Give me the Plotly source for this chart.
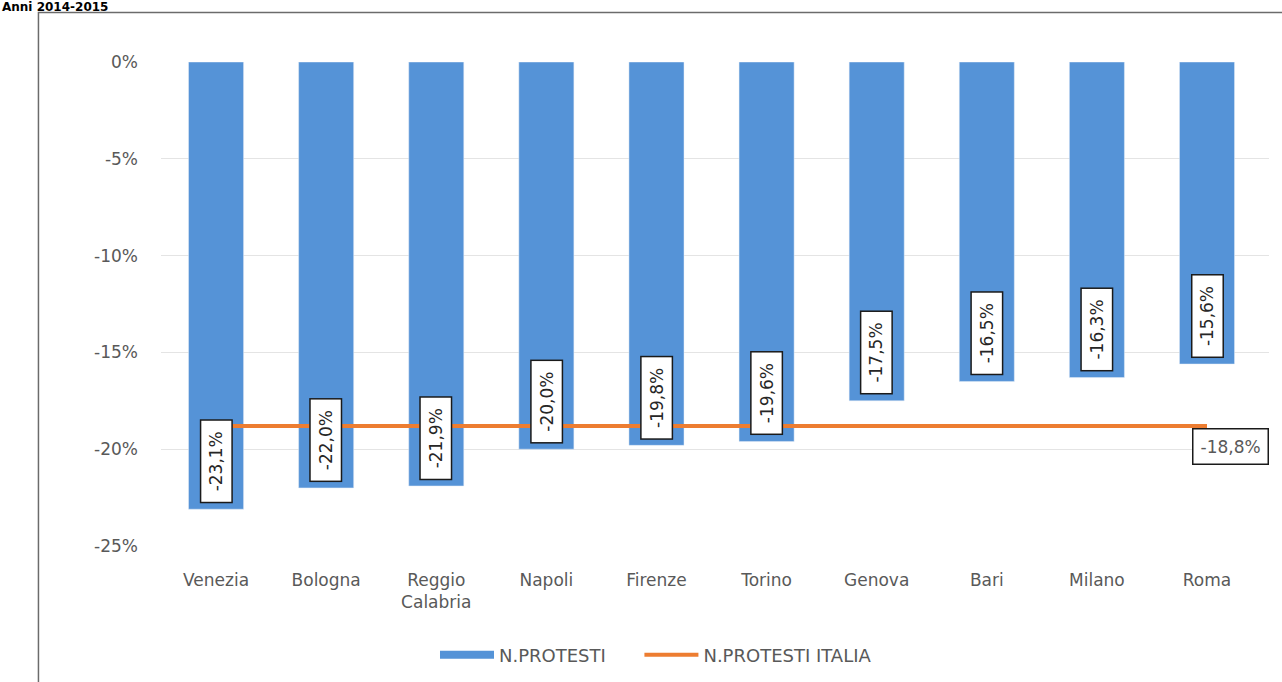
import plotly.graph_objects as go

cities = ["Venezia", "Bologna", "Reggio<br>Calabria", "Napoli", "Firenze",
          "Torino", "Genova", "Bari", "Milano", "Roma"]
protesti = [-23.1, -22.0, -21.9, -20.0, -19.8, -19.6, -17.5, -16.5, -16.3, -15.6]
italia = [-18.8] * len(cities)
ytick_vals = [0, -5, -10, -15, -20, -25]
ytick_text = ["0%", "-5%", "-10%", "-15%", "-20%", "-25%"]

FONT = "DejaVu Sans"
TXT = "#595959"
BLUE = "#5593d7"
ORANGE = "#ed7d31"

def fmt(v):
    return ("%.1f%%" % v).replace(".", ",")

fig = go.Figure()
fig.add_trace(go.Bar(x=cities, y=protesti, marker_color=BLUE, name="N.PROTESTI",
                     showlegend=False, width=0.5))
fig.add_trace(go.Scatter(x=[None], y=[None], mode="lines",
                         name="N.PROTESTI" + "\u00a0" * 5,
                         line=dict(color=BLUE, width=8)))
fig.add_trace(go.Scatter(x=cities, y=italia, mode="lines", name="N.PROTESTI ITALIA",
                         line=dict(color=ORANGE, width=4)))

for c, v in zip(cities, protesti):
    fig.add_annotation(x=c, y=v, xref="x", yref="y", text="\u00a0" + fmt(v) + "\u00a0",
                       textangle=-90, showarrow=False, yanchor="bottom", xanchor="center",
                       yshift=6, font=dict(family=FONT, size=17, color="#262626"),
                       bgcolor="white", bordercolor="#1a1a1a", borderwidth=1.5, borderpad=5)

fig.add_annotation(x=cities[-1], y=italia[-1], xref="x", yref="y", text=fmt(italia[-1]),
                   showarrow=False, xanchor="left", yanchor="top", xshift=-15, yshift=-2,
                   font=dict(family=FONT, size=17, color=TXT),
                   bgcolor="white", bordercolor="#1a1a1a", borderwidth=1.5, borderpad=7)

fig.add_annotation(x=-0.1453, y=1.1136, xref="paper", yref="paper", xanchor="left",
                   yanchor="middle", showarrow=False, text="<b>Anni 2014-2015</b>",
                   font=dict(family=FONT, size=12, color="black"))

fig.add_shape(type="rect", xref="paper", yref="paper", x0=-0.1106, x1=1.05,
              y0=-0.4, y1=1.1023, line=dict(color="#6b6b6b", width=1.5))

fig.update_layout(
    width=1282, height=682,
    margin=dict(l=161, r=13, t=62, b=136),
    plot_bgcolor="white", paper_bgcolor="white",
    font=dict(family=FONT, size=17, color=TXT),
    legend=dict(orientation="h", xref="container", yref="container",
                x=0.5117, xanchor="center", y=0.0396, yanchor="middle",
                itemwidth=54, font=dict(family=FONT, size=18, color=TXT)),
    xaxis=dict(showgrid=False, showline=False, ticks="", ticklabelstandoff=22,
               automargin=False, tickfont=dict(size=17, color=TXT)),
    yaxis=dict(range=[-25, 0], tickvals=ytick_vals, ticktext=ytick_text,
               showgrid=True, gridcolor="#e4e4e4", gridwidth=1, zeroline=False,
               showline=False, ticks="", ticklabelstandoff=22, automargin=False,
               tickfont=dict(size=17, color=TXT)),
)

post = ("document.body.style.margin='0';document.body.style.overflow='hidden';"
        "Plotly.relayout('{plot_id}',{width:1282,height:682});")
fig.write_html("out.html", post_script=post,
               config={"responsive": False, "displayModeBar": False})
